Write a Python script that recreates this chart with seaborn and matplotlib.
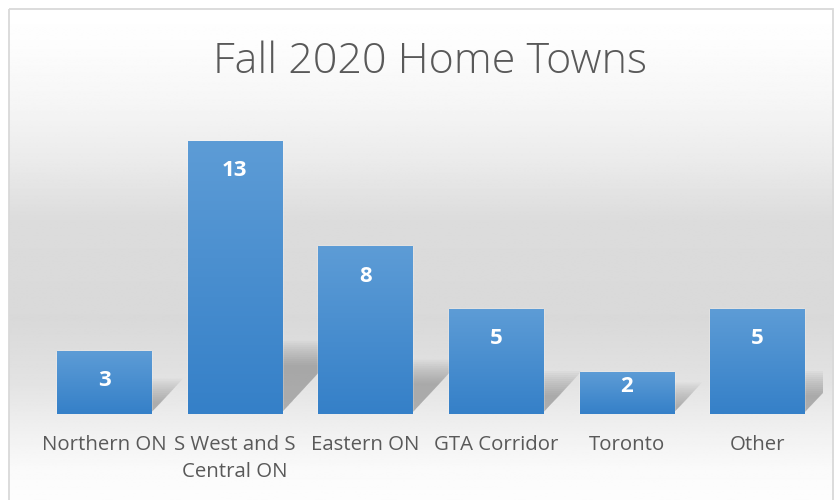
import numpy as np
import pandas as pd
import matplotlib.pyplot as plt
from matplotlib.patches import Rectangle, Polygon
from matplotlib.colors import LinearSegmentedColormap
import seaborn as sns

# data
regions = ["Northern ON", "S West and S\nCentral ON", "Eastern ON", "GTA Corridor", "Toronto", "Other"]
counts = [3, 13, 8, 5, 2, 5]
title = "Fall 2020 Home Towns"

sns.set_theme(style="white")
plt.rcParams['font.family'] = ['Open Sans', 'DejaVu Sans']

W, H = 835, 500
fig = plt.figure(figsize=(W / 100, H / 100), dpi=100)
fig.patch.set_facecolor('white')

# chart area background: soft grey band in the middle, white top and bottom
bg = fig.add_axes([0, 0, 1, 1], zorder=0)
bg.set_xlim(0, W)
bg.set_ylim(H, 0)
bg.axis('off')
rows = np.linspace(9, H, 400)
stops_y = [9, 40, 100, 160, 220, 320, 380, 430, 470, 500]
stops_v = [255, 253, 246, 235, 220, 217, 226, 240, 250, 253]
shade = np.interp(rows, stops_y, stops_v) / 255
bg.imshow(np.repeat(shade[:, None], 2, axis=1), cmap='gray', vmin=0, vmax=1,
          extent=[9, 834, H, 9], aspect='auto', interpolation='bilinear')
bg.add_patch(Rectangle((9, 9), 824, 520, fill=False, edgecolor='#d9d9d9', lw=1.3))
bg.text(430, 62, title, ha='center', va='center', fontsize=31, color='#595959',
        fontweight='light')

# plot area
ax = fig.add_axes([38.7 / W, 86 / H, (822.6 - 38.7) / W, 294 / H], zorder=1)
ax.patch.set_alpha(0)
df = pd.DataFrame({"region": regions, "count": counts})
sns.barplot(data=df, x="region", y="count", color='#5b9bd5', saturation=1,
            width=0.72, ax=ax, zorder=3)
bars = list(ax.patches)[:len(counts)]

# soft shadow cast up and to the right from the foot of each bar
px_x, px_y = 130.6, 21.0   # pixels per data unit
for p in bars:
    x0, w, h = p.get_x(), p.get_width(), p.get_height()
    sh = (12 + 0.18 * h * px_y) / px_y
    for k in range(-6, 7):
        top = max(sh + k * 2.0 / px_y, 0.1)
        d = 0.9 * top * px_y / px_x
        lift = 1.5 / px_y
        ax.add_patch(Polygon([(x0 + 0.02, lift), (x0 + w, lift),
                              (x0 + w + d, top), (x0 + d, top)],
                             closed=True, facecolor='#767676', alpha=0.05,
                             edgecolor='none', zorder=2))

# vertical gradient fill on the bars
bar_cmap = LinearSegmentedColormap.from_list('bar', ['#3580c8', '#5d9cd6'])
grad = np.linspace(1, 0, 100)[:, None]
for p in bars:
    x0, y0, w, h = p.get_x(), p.get_y(), p.get_width(), p.get_height()
    im = ax.imshow(grad, cmap=bar_cmap, vmin=0, vmax=1, aspect='auto',
                   extent=[x0, x0 + w, y0, y0 + h], zorder=3.5)
    im.set_clip_path(p)

# value labels sit inside the bar top; short bars push them up
for i, v in enumerate(counts):
    drop_px = min(30, v * px_y - 27)
    ax.annotate(str(v), (i, v), xytext=(0, -drop_px * 0.72), textcoords='offset points',
                ha='center', va='center', color='white', fontsize=16,
                fontweight='bold', zorder=5)

ax.set_xlim(-0.5, len(counts) - 0.5)
ax.set_ylim(0, 14)
ax.set_yticks([])
ax.set_xlabel('')
ax.set_ylabel('')
ax.tick_params(axis='x', length=0, pad=15, labelsize=14.7, labelcolor='#595959')
for t in ax.get_xticklabels():
    t.set_linespacing(1.45)
sns.despine(ax=ax, left=True, bottom=True)

fig.savefig("out.png", dpi=100)
plt.close(fig)
